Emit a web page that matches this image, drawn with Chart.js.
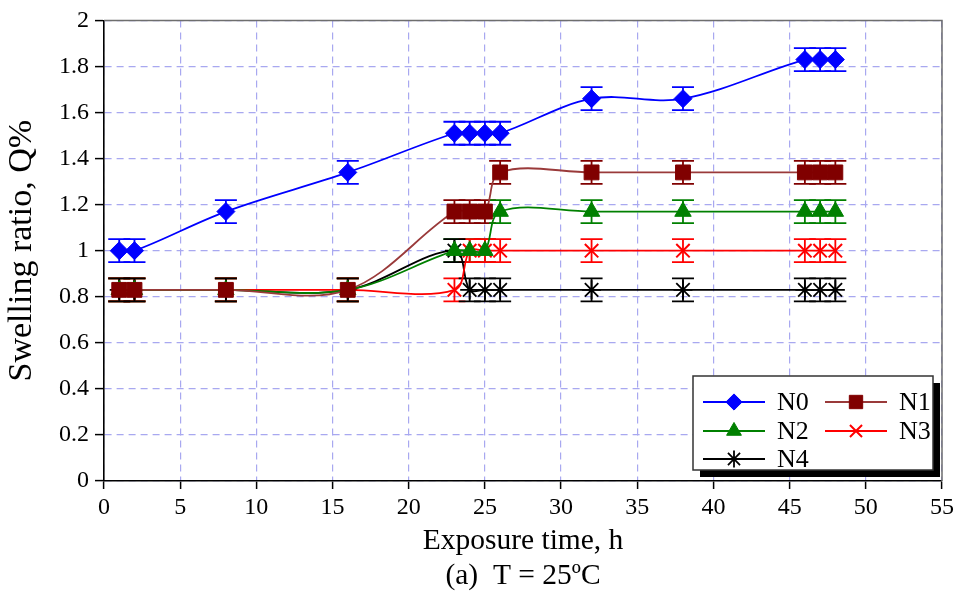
<!DOCTYPE html>
<html><head><meta charset="utf-8">
<script src="https://cdn.jsdelivr.net/npm/chart.js@4/dist/chart.umd.min.js"></script>
<style>html,body{margin:0;padding:0;background:#fff;}#wrap{width:963px;height:591px;}</style>
</head><body><div id="wrap"><canvas id="c" width="963" height="591"></canvas></div>
<script>
// ---- data ----
const hours = [1, 2, 8, 16, 23, 24, 25, 26, 32, 38, 46, 47, 48];
const seriesNames = ['N0', 'N1', 'N2', 'N3', 'N4'];
const N0 = [1.00, 1.00, 1.17, 1.34, 1.51, 1.51, 1.51, 1.51, 1.66, 1.66, 1.83, 1.83, 1.83];
const N1 = [0.83, 0.83, 0.83, 0.83, 1.17, 1.17, 1.17, 1.34, 1.34, 1.34, 1.34, 1.34, 1.34];
const N2 = [0.83, 0.83, 0.83, 0.83, 1.00, 1.00, 1.00, 1.17, 1.17, 1.17, 1.17, 1.17, 1.17];
const N3 = [0.83, 0.83, 0.83, 0.83, 0.83, 1.00, 1.00, 1.00, 1.00, 1.00, 1.00, 1.00, 1.00];
const N4 = [0.83, 0.83, 0.83, 0.83, 1.00, 0.83, 0.83, 0.83, 0.83, 0.83, 0.83, 0.83, 0.83];
const errN0 = [0.05, 0.05, 0.05, 0.05, 0.05, 0.05, 0.05, 0.05, 0.05, 0.05, 0.05, 0.05, 0.05];
const errN1 = [0.05, 0.05, 0.05, 0.05, 0.05, 0.05, 0.05, 0.05, 0.05, 0.05, 0.05, 0.05, 0.05];
const errN2 = [0.05, 0.05, 0.05, 0.05, 0.05, 0.05, 0.05, 0.05, 0.05, 0.05, 0.05, 0.05, 0.05];
const errN3 = [0.05, 0.05, 0.05, 0.05, 0.05, 0.05, 0.05, 0.05, 0.05, 0.05, 0.05, 0.05, 0.05];
const errN4 = [0.05, 0.05, 0.05, 0.05, 0.05, 0.05, 0.05, 0.05, 0.05, 0.05, 0.05, 0.05, 0.05];
const xTitle = ['Exposure time, h', '(a)  T = 25ºC'];
const yTitle = 'Swelling ratio, Q%';

const FONT = "'Liberation Serif', 'Times New Roman', serif";

function pts(vals) { return hours.map((h, i) => ({ x: h, y: vals[i] })); }

const styles = [
  { line: '#0000ff', mark: '#0000ff', shape: 'rectRot', r: 9, bw: 1 },
  { line: '#9a3a3a', mark: '#800000', shape: 'rect', r: 10.5, bw: 1 },
  { line: '#008000', mark: '#008000', shape: 'triangle', r: 9.5, bw: 1 },
  { line: '#ff0000', mark: '#ff0000', shape: 'crossRot', r: 9.5, bw: 2 },
  { line: '#000000', mark: '#000000', shape: 'star', r: 9.5, bw: 1.8 }
];
const values = [N0, N1, N2, N3, N4];
const errors = [errN0, errN1, errN2, errN3, errN4];

const datasets = seriesNames.map((name, k) => ({
  label: name,
  data: pts(values[k]),
  errors: errors[k],
  borderColor: styles[k].line,
  backgroundColor: styles[k].mark,
  pointBackgroundColor: styles[k].mark,
  pointBorderColor: styles[k].mark,
  pointStyle: styles[k].shape,
  pointRadius: styles[k].r,
  pointHoverRadius: styles[k].r,
  pointBorderWidth: styles[k].bw,
  borderWidth: 1.8,
  tension: 0.35,
  fill: false
}));

const frame = {
  id: 'frame',
  beforeDatasetsDraw(chart) {
    const { ctx, chartArea: a } = chart;
    ctx.save();
    ctx.strokeStyle = '#6e6e6e';
    ctx.lineWidth = 1.5;
    ctx.beginPath();
    ctx.moveTo(a.left, a.top);
    ctx.lineTo(a.right, a.top);
    ctx.lineTo(a.right, a.bottom);
    ctx.stroke();
    ctx.restore();
  }
};

const errorBars = {
  id: 'errorBars',
  beforeDatasetsDraw(chart) {
    const { ctx } = chart;
    const xs = chart.scales.x, ys = chart.scales.y;
    ctx.save();
    chart.data.datasets.forEach((ds) => {
      ctx.strokeStyle = ds.pointBorderColor;
      ctx.lineWidth = 1.8;
      ds.data.forEach((p, i) => {
        const e = ds.errors[i];
        const px = xs.getPixelForValue(p.x);
        const y1 = ys.getPixelForValue(p.y - e);
        const y2 = ys.getPixelForValue(p.y + e);
        const w = 11;
        ctx.beginPath();
        ctx.moveTo(px, y1); ctx.lineTo(px, y2);
        ctx.moveTo(px - w, y1); ctx.lineTo(px + w, y1);
        ctx.moveTo(px - w, y2); ctx.lineTo(px + w, y2);
        ctx.stroke();
      });
    });
    ctx.restore();
  }
};

function drawMarker(ctx, ds, x, y) {
  ctx.fillStyle = ds.pointBackgroundColor;
  ctx.strokeStyle = ds.pointBorderColor;
  ctx.lineWidth = ds.pointBorderWidth;
  const opts = { pointStyle: ds.pointStyle, rotation: 0, radius: ds.pointRadius * 0.9, borderWidth: ds.pointBorderWidth };
  if (Chart.helpers && Chart.helpers.drawPoint) {
    Chart.helpers.drawPoint(ctx, opts, x, y);
  }
}

const boxLegend = {
  id: 'boxLegend',
  afterDraw(chart) {
    const { ctx } = chart;
    const bx = 693, by = 376, bw = 240, bh = 94;
    ctx.save();
    ctx.fillStyle = '#000';
    ctx.fillRect(bx + 7, by + 7, bw, bh);
    ctx.fillStyle = '#fff';
    ctx.fillRect(bx, by, bw, bh);
    ctx.strokeStyle = '#333';
    ctx.lineWidth = 1.5;
    ctx.strokeRect(bx, by, bw, bh);
    const cols = [bx + 10, bx + 132];
    const rows = [by + 26, by + 55, by + 83];
    ctx.font = '26px ' + FONT;
    ctx.textBaseline = 'middle';
    ctx.textAlign = 'left';
    chart.data.datasets.forEach((ds, i) => {
      const cx = cols[i % 2], cy = rows[Math.floor(i / 2)];
      ctx.strokeStyle = ds.borderColor;
      ctx.lineWidth = 1.8;
      ctx.beginPath();
      ctx.moveTo(cx, cy); ctx.lineTo(cx + 62, cy);
      ctx.stroke();
      drawMarker(ctx, ds, cx + 31, cy);
      ctx.fillStyle = '#000';
      ctx.fillText(ds.label, cx + 74, cy + 1);
    });
    ctx.restore();
  }
};

new Chart(document.getElementById('c'), {
  type: 'line',
  data: { datasets },
  plugins: [frame, errorBars, boxLegend],
  options: {
    responsive: false,
    animation: false,
    devicePixelRatio: 1,
    layout: { padding: { top: 16, right: 21, left: 0, bottom: 0 } },
    plugins: { legend: { display: false }, tooltip: { enabled: false } },
    scales: {
      x: {
        type: 'linear', min: 0, max: 55,
        ticks: { stepSize: 5, color: '#000', font: { family: FONT, size: 24 }, padding: 4, maxRotation: 0 },
        grid: { color: '#a8a8f0', lineWidth: 1.2, tickColor: '#000', tickLength: 8, tickWidth: 1.5 },
        border: { color: '#000', width: 1.6, dash: [7, 5] },
        title: { display: true, text: xTitle, color: '#000', font: { family: FONT, size: 29.5, lineHeight: 1.2 }, padding: { top: 0, bottom: -3 } },
        afterFit(s) { s.height = 110; }
      },
      y: {
        min: 0, max: 2,
        ticks: { stepSize: 0.2, color: '#000', font: { family: FONT, size: 24 }, padding: 6,
                 callback: (v) => String(Math.round(v * 10) / 10) },
        grid: { color: '#a8a8f0', lineWidth: 1.2, tickColor: '#000', tickLength: 9, tickWidth: 1.5 },
        border: { color: '#000', width: 1.6, dash: [7, 5] },
        title: { display: true, text: yTitle, color: '#000', font: { family: FONT, size: 34, lineHeight: 1.2 }, padding: { top: 2, bottom: 0 } },
        afterFit(s) { s.width = 104; }
      }
    }
  }
});
</script></body></html>
